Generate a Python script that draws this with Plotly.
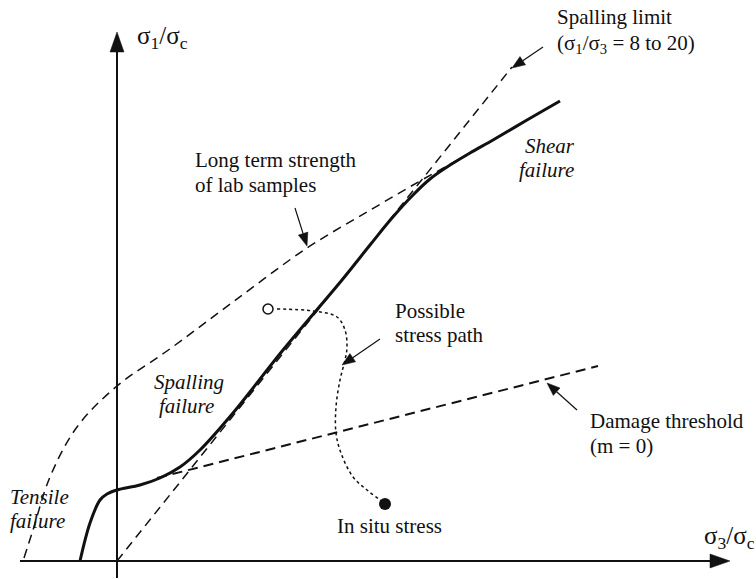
import numpy as np
import plotly.graph_objects as go

# ---- curves in normalised stress space (sigma3/sigma_c, sigma1/sigma_c) ----
# in situ failure envelope (solid)
envelope_x = [-0.37, -0.27, -0.17, -0.10, 0.00, 0.23, 0.43, 0.63, 0.83, 1.16,
              1.66, 2.25, 2.53, 2.75, 2.96, 3.13, 3.30, 3.53, 3.76, 4.10, 4.43]
envelope_y = [0.00, 0.38, 0.61, 0.67, 0.71, 0.76, 0.83, 0.94, 1.11, 1.48,
              2.11, 2.81, 3.16, 3.43, 3.66, 3.82, 3.94, 4.08, 4.21, 4.41, 4.60]

# long term strength of lab samples (dashed)
longterm_x = [-0.93, -0.84, -0.67, -0.40, 0.00, 0.50, 1.16, 1.90, 2.50, 3.03, 3.30, 3.50]
longterm_y = [0.03, 0.31, 0.84, 1.34, 1.75, 2.10, 2.59, 3.13, 3.49, 3.80, 3.95, 4.06]

# spalling limit (dashed, straight from origin)
spalling_x = [0.00, 3.95]
spalling_y = [0.00, 4.94]

# damage threshold, m = 0 (dashed)
damage_x = [0.40, 4.81]
damage_y = [0.83, 1.95]

# possible stress path (dotted) from in situ stress to the open point
path_x = [1.60, 1.96, 2.20, 2.28, 2.30, 2.28, 2.23, 2.19, 2.19, 2.24, 2.36, 2.50, 2.63, 2.68]
path_y = [2.52, 2.50, 2.44, 2.31, 2.14, 2.01, 1.81, 1.54, 1.28, 1.08, 0.84, 0.71, 0.61, 0.57]
path_end_x = [1.51]
path_end_y = [2.52]
insitu_x = [2.68]
insitu_y = [0.57]

# pointer arrows: (tail, tip)
pointers = [
    ((4.26, 5.14), (3.95, 4.93)),   # spalling limit
    ((1.78, 3.53), (1.90, 3.15)),   # long term strength
    ((2.63, 2.22), (2.25, 1.96)),   # stress path
    ((4.60, 1.51), (4.30, 1.78)),   # damage threshold
]
axis_arrows = [
    ((0.00, -0.17), (0.00, 5.29)),  # sigma1 axis
    ((-0.97, 0.00), (6.13, 0.00)),  # sigma3 axis
]

BLACK = "#111111"
fig = go.Figure()


def add_arrow(tail, tip, length, width, lw):
    tail = np.array(tail, float)
    tip = np.array(tip, float)
    d = tip - tail
    d = d / np.hypot(*d)
    n = np.array([-d[1], d[0]])
    base = tip - d * length
    fig.add_trace(go.Scatter(x=[tail[0], base[0]], y=[tail[1], base[1]], mode="lines",
                             line=dict(color=BLACK, width=lw), hoverinfo="skip"))
    p1 = base + n * width / 2
    p2 = base - n * width / 2
    fig.add_trace(go.Scatter(x=[tip[0], p1[0], p2[0], tip[0]], y=[tip[1], p1[1], p2[1], tip[1]],
                             mode="lines", fill="toself", fillcolor=BLACK,
                             line=dict(color=BLACK, width=0.5), hoverinfo="skip"))


for tail, tip in axis_arrows:
    add_arrow(tail, tip, 0.20, 0.14, 2)

fig.add_trace(go.Scatter(x=longterm_x, y=longterm_y, mode="lines", line_shape="spline",
                         line=dict(color=BLACK, width=1.5, dash="9px,6px")))
fig.add_trace(go.Scatter(x=spalling_x, y=spalling_y, mode="lines",
                         line=dict(color=BLACK, width=1.5, dash="9px,6px")))
fig.add_trace(go.Scatter(x=damage_x, y=damage_y, mode="lines",
                         line=dict(color=BLACK, width=2, dash="10px,6px")))
fig.add_trace(go.Scatter(x=envelope_x, y=envelope_y, mode="lines", line_shape="spline",
                         line=dict(color=BLACK, width=3)))
fig.add_trace(go.Scatter(x=path_x, y=path_y, mode="lines", line_shape="spline",
                         line=dict(color=BLACK, width=1.5, dash="dot")))
fig.add_trace(go.Scatter(x=path_end_x, y=path_end_y, mode="markers",
                         marker=dict(symbol="circle", size=10, color="white",
                                     line=dict(color=BLACK, width=1.5))))
fig.add_trace(go.Scatter(x=insitu_x, y=insitu_y, mode="markers",
                         marker=dict(symbol="circle", size=12, color=BLACK)))

for tail, tip in pointers:
    add_arrow(tail, tip, 0.13, 0.10, 1.2)

SERIF = "'Liberation Serif', 'Times New Roman', Times, serif"
labels = [
    ("Spalling limit", 4.38, 5.44),
    ("(σ<sub>1</sub>/σ<sub>3</sub> = 8 to 20)", 4.38, 5.17),
    ("<i>Shear</i>", 4.06, 4.15),
    ("<i>failure</i>", 4.00, 3.91),
    ("Long term strength", 0.76, 4.01),
    ("of lab samples", 0.76, 3.76),
    ("Possible", 2.76, 2.50),
    ("stress path", 2.76, 2.26),
    ("Damage threshold", 4.71, 1.40),
    ("(m = 0)", 4.71, 1.15),
    ("In situ stress", 2.18, 0.35),
    ("<i>Spalling</i>", 0.35, 1.79),
    ("<i>failure</i>", 0.40, 1.55),
    ("<i>Tensile</i>", -1.09, 0.64),
    ("<i>failure</i>", -1.09, 0.40),
]
for text, x, y in labels:
    fig.add_annotation(x=x, y=y, text=text, showarrow=False, xanchor="left", yanchor="middle",
                       font=dict(family=SERIF, size=21, color=BLACK))

fig.add_annotation(x=0.18, y=5.24, text="σ<sub>1</sub>/σ<sub>c</sub>", showarrow=False,
                   xanchor="left", yanchor="middle", font=dict(family=SERIF, size=25, color=BLACK))
fig.add_annotation(x=5.85, y=0.24, text="σ<sub>3</sub>/σ<sub>c</sub>", showarrow=False,
                   xanchor="left", yanchor="middle", font=dict(family=SERIF, size=25, color=BLACK))

fig.update_layout(
    width=756, height=579, margin=dict(l=0, r=0, t=0, b=0),
    paper_bgcolor="white", plot_bgcolor="white", showlegend=False,
    font=dict(family=SERIF),
    xaxis=dict(range=[-1.17, 6.39], visible=False, fixedrange=True),
    yaxis=dict(range=[-0.18, 5.61], visible=False, fixedrange=True),
)
fig.write_html("out.html")
